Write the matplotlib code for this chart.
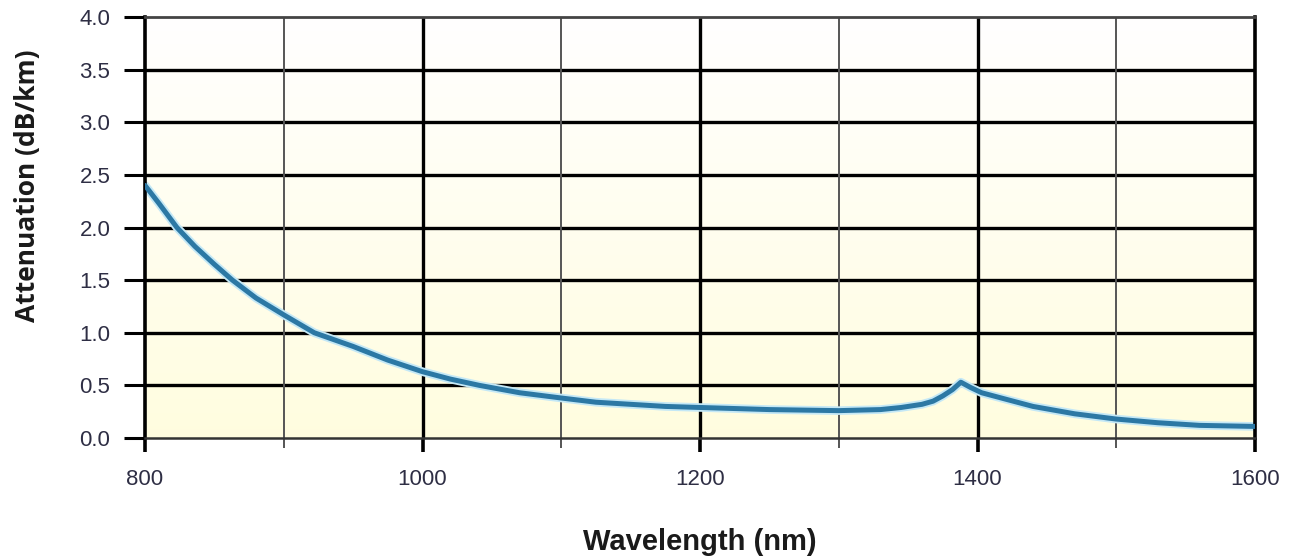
import numpy as np
import matplotlib.pyplot as plt

# attenuation curve (nm, dB/km)
wavelength = [800, 810, 823, 836, 850, 863, 880, 900, 922, 950, 975, 1000,
              1020, 1041, 1070, 1100, 1125, 1150, 1175, 1200, 1225, 1250,
              1275, 1300, 1330, 1345, 1360, 1368, 1375, 1382, 1388, 1395,
              1403, 1420, 1440, 1470, 1500, 1530, 1560, 1580, 1600]
attenuation = [2.40, 2.23, 2.00, 1.82, 1.65, 1.50, 1.33, 1.17, 1.00, 0.87,
               0.74, 0.63, 0.56, 0.50, 0.43, 0.38, 0.34, 0.32, 0.30, 0.29,
               0.28, 0.27, 0.265, 0.26, 0.27, 0.29, 0.32, 0.35, 0.40, 0.46,
               0.53, 0.48, 0.43, 0.37, 0.30, 0.23, 0.18, 0.145, 0.12, 0.115,
               0.11]

x_ticks = [800, 1000, 1200, 1400, 1600]
x_minor = [900, 1100, 1300, 1500]
y_ticks = [0.0, 0.5, 1.0, 1.5, 2.0, 2.5, 3.0, 3.5, 4.0]

text_col = '#2e2e44'

fig = plt.figure(figsize=(12.95, 5.58), dpi=100)
ax = fig.add_axes([145 / 1295, 120 / 558, 1110 / 1295, 421 / 558])

# white to pale yellow background gradient (white at the top)
grad = np.linspace(0, 1, 256).reshape(-1, 1)
top = np.array([1.0, 1.0, 1.0])
bottom = np.array([1.0, 0.992, 0.875])
img = top + (bottom - top) * grad[..., None]
ax.imshow(img, extent=[800, 1600, 0.0, 4.0], aspect='auto', zorder=0,
          origin='upper')
ax.set_xlim(800, 1600)
ax.set_ylim(0, 4.0)

# grid
for y in y_ticks[1:-1]:
    ax.axhline(y, color='black', lw=2.4, zorder=1)
for x in x_ticks[1:-1]:
    ax.axvline(x, color='black', lw=2.4, zorder=1)
for x in x_minor:
    ax.axvline(x, color='#555555', lw=1.4, zorder=1)

# the curve, with a faint halo
ax.plot(wavelength, attenuation, color='#c4e8f6', lw=6.2, zorder=2,
        solid_capstyle='round', solid_joinstyle='round')
ax.plot(wavelength, attenuation, color='#2c78a4', lw=3.6, zorder=3,
        solid_capstyle='round', solid_joinstyle='round')

for s in ['left', 'right']:
    ax.spines[s].set_color('black')
    ax.spines[s].set_linewidth(2.6)
ax.spines['bottom'].set_color('#333333')
ax.spines['bottom'].set_linewidth(1.8)
ax.spines['top'].set_color('#444444')
ax.spines['top'].set_linewidth(2.0)

ax.set_xticks(x_ticks)
ax.set_xticks(x_minor, minor=True)
ax.set_yticks(y_ticks)
ax.set_yticklabels(['%.1f' % v for v in y_ticks])
ax.tick_params(axis='x', which='major', length=10, width=2.6, color='black',
               pad=12, labelsize=16, labelcolor=text_col)
ax.tick_params(axis='x', which='minor', length=7, width=1.4, color='#555555')
ax.tick_params(axis='y', length=15, width=2.2, color='black', pad=10,
               labelsize=16, labelcolor=text_col)
for lab in ax.get_xticklabels() + ax.get_yticklabels():
    lab.set_fontfamily('Liberation Sans')

ax.set_xlabel('Wavelength (nm)', fontsize=21, fontweight='bold',
              family='Liberation Sans', color='#1a1a1a')
ax.xaxis.set_label_coords(0.5, -0.213)
ax.set_ylabel('Attenuation (dB/km)', fontsize=19, fontweight='bold',
              family='Open Sans', color='#1a1a1a')
ax.yaxis.set_label_coords(-0.094, 0.60)

plt.savefig('out.png', dpi=100)
